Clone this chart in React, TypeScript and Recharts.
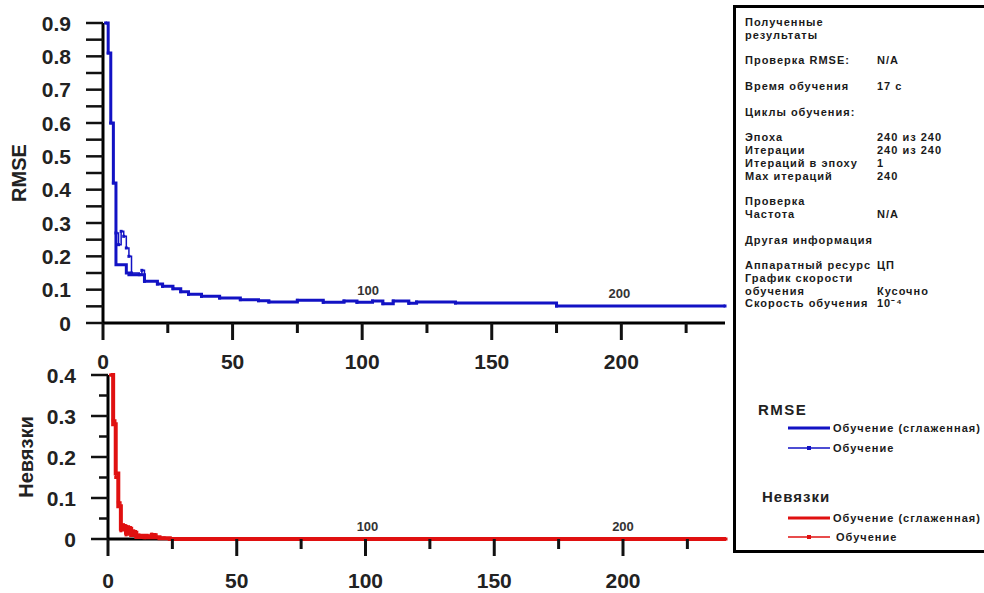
import React from 'react';
import { LineChart, Line, XAxis, YAxis, ReferenceDot } from 'recharts';

// RMSE, training smoothed (iteration -> value)
const rmseSmoothIter = [1, 2, 3, 4, 5, 9, 10, 16, 21, 23, 27, 30, 33, 38, 45, 53, 60, 64, 75, 85, 93, 98, 104, 108, 112, 118, 121, 136, 175, 240];
const rmseSmoothVal = [0.9, 0.81, 0.6, 0.42, 0.175, 0.15, 0.145, 0.125, 0.117, 0.11, 0.103, 0.094, 0.086, 0.08, 0.075, 0.07, 0.067, 0.063, 0.068, 0.062, 0.066, 0.062, 0.066, 0.058, 0.066, 0.059, 0.063, 0.06, 0.051, 0.051];

// RMSE, training raw
const rmseRawIter = [1, 2, 3, 4, 5, 6, 7, 8, 9, 10, 11, 14, 15, 16, 21, 23, 27, 30, 33, 38, 45, 53, 60, 64, 75, 85, 93, 98, 104, 108, 112, 118, 121, 136, 175, 240];
const rmseRawVal = [0.9, 0.81, 0.6, 0.42, 0.27, 0.235, 0.275, 0.26, 0.225, 0.2, 0.15, 0.145, 0.158, 0.125, 0.117, 0.11, 0.103, 0.094, 0.086, 0.08, 0.075, 0.07, 0.067, 0.063, 0.068, 0.062, 0.066, 0.062, 0.066, 0.058, 0.066, 0.059, 0.063, 0.06, 0.051, 0.051];

// residuals (Невязки), smoothed and raw
const resSmoothIter = [1, 2, 3, 4, 5, 6, 7, 8, 9, 10, 11, 13, 15, 17, 18, 20, 24, 240];
const resSmoothVal = [0.4, 0.28, 0.16, 0.08, 0.025, 0.03, 0.015, 0.025, 0.01, 0.015, 0.005, 0.008, 0.004, 0.01, 0.004, 0.002, 0, 0];
const resRawIter = [1, 2, 3, 4, 5, 6, 7, 8, 9, 10, 11, 12, 14, 16, 17, 19, 22, 25, 240];
const resRawVal = [0.4, 0.29, 0.15, 0.09, 0.02, 0.035, 0.01, 0.03, 0.012, 0.02, 0.006, 0.01, 0.003, 0.008, 0.012, 0.004, 0.002, 0, 0];

const xTicks = [0, 25, 50, 75, 100, 125, 150, 175, 200, 225];
const rmseTicks = [0, 0.05, 0.1, 0.15, 0.2, 0.25, 0.3, 0.35, 0.4, 0.45, 0.5, 0.55, 0.6, 0.65, 0.7, 0.75, 0.8, 0.85, 0.9];
const resTicks = [0, 0.05, 0.1, 0.15, 0.2, 0.25, 0.3, 0.35, 0.4];

// epoch markers written above the curves
const markerIters = [100, 200];
const rmseMarkerVal = [0.06, 0.05];
const resMarkerVal = [0, 0];

const infoGroups: [string, string][][] = [
  [['Полученные', ''], ['результаты', '']],
  [['Проверка RMSE:', 'N/A']],
  [['Время обучения', '17 с']],
  [['Циклы обучения:', '']],
  [['Эпоха', '240 из 240'], ['Итерации', '240 из 240'], ['Итераций в эпоху', '1'], ['Max итераций', '240']],
  [['Проверка', ''], ['Частота', 'N/A']],
  [['Другая информация', '']],
  [['Аппаратный ресурс', 'ЦП'], ['График скорости', ''], ['обучения', 'Кусочно'], ['Скорость обучения', '10⁻⁴']],
];

const legendTitles = ['RMSE', 'Невязки'];
const legendItems = ['Обучение (сглаженная)', 'Обучение'];

const BLUE = '#1212c4';
const RED = '#e01010';
const FONT = "'Liberation Sans', Arial, sans-serif";

const zip = (xs: number[], ys: number[]) => xs.map((x, i) => ({ iter: x, value: ys[i] }));

const makeXTick = (labelDy: number) => ({ x, y, payload }: any) => {
  const major = payload.value % 50 === 0;
  return (
    <g>
      <line x1={x} x2={x} y1={y} y2={y + (major ? 17 : 10)} stroke="#111" strokeWidth={3} />
      {major && (
        <text x={x} y={y + labelDy} textAnchor="middle" fontFamily={FONT} fontWeight="bold" fontSize={21} fill="#222">
          {payload.value}
        </text>
      )}
    </g>
  );
};

const makeYTick = (minorLen: number) => ({ x, y, payload }: any) => {
  const v = payload.value;
  const major = Math.round(v * 20) % 2 === 0;
  return (
    <g>
      <line x1={x - (major ? 17 : minorLen)} x2={x} y1={y} y2={y} stroke="#111" strokeWidth={2.5} />
      {major && (
        <text x={x - 32} y={y + 7.5} textAnchor="end" fontFamily={FONT} fontWeight="bold" fontSize={21} fill="#222">
          {v === 0 ? '0' : v.toFixed(1)}
        </text>
      )}
    </g>
  );
};

const axisLabel = (text: string, dx: number) => ({ viewBox }: any) => (
  <text
    transform={`translate(${viewBox.x + dx},${viewBox.y + viewBox.height / 2}) rotate(-90)`}
    textAnchor="middle"
    dominantBaseline="central"
    fontFamily={FONT}
    fontWeight="bold"
    fontSize={20}
    fill="#222"
  >
    {text}
  </text>
);

const marker = (label: string, dx: number, dy: number) => (p: any) => (
  <text x={p.cx + dx} y={p.cy + dy} textAnchor="middle" fontFamily={FONT} fontWeight="bold" fontSize={13} fill="#333">
    {label}
  </text>
);

const squareDot = (color: string) => (p: any) => (
  <rect key={p.index} x={p.cx - 1.5} y={p.cy - 1.5} width={3} height={3} fill={color} />
);

const axisLine = { stroke: '#000', strokeWidth: 3 };

const App = () => {
  return (
    <div style={{ position: 'absolute', left: 0, top: 0, width: 984, height: 593, overflow: 'hidden', background: '#fff' }}>
      <div style={{ position: 'absolute', left: 0, top: 0 }}>
        <LineChart width={740} height={380} margin={{ top: 23, right: 15, bottom: 0, left: 0 }}>
          <XAxis dataKey="iter" type="number" domain={[0, 240]} ticks={xTicks} interval={0} height={57}
            axisLine={axisLine} tickLine={false} tickSize={0} tickMargin={0} tick={makeXTick(46)} />
          <YAxis type="number" domain={[0, 0.9]} ticks={rmseTicks} interval={0} width={103}
            axisLine={axisLine} tickLine={false} tickSize={0} tickMargin={0} tick={makeYTick(17)}
            label={{ content: axisLabel('RMSE', 19) }} />
          <Line data={zip(rmseRawIter, rmseRawVal)} dataKey="value" type="stepAfter" stroke={BLUE}
            strokeWidth={1.5} dot={squareDot(BLUE)} isAnimationActive={false} zIndex={600} />
          <Line data={zip(rmseSmoothIter, rmseSmoothVal)} dataKey="value" type="stepAfter" stroke={BLUE}
            strokeWidth={3} dot={false} isAnimationActive={false} zIndex={601} />
          {markerIters.map((it, i) => (
            <ReferenceDot key={it} x={it} y={rmseMarkerVal[i]} r={1} shape={marker(String(it), i === 0 ? 6 : -2, -8)} />
          ))}
        </LineChart>
      </div>

      <div style={{ position: 'absolute', left: 0, top: 350 }}>
        <LineChart width={740} height={243} margin={{ top: 25, right: 14, bottom: 0, left: 0 }}>
          <XAxis dataKey="iter" type="number" domain={[0, 240]} ticks={xTicks} interval={0} height={54}
            axisLine={axisLine} tickLine={false} tickSize={0} tickMargin={0} tick={makeXTick(49)} />
          <YAxis type="number" domain={[0, 0.4]} ticks={resTicks} interval={0} width={108}
            axisLine={axisLine} tickLine={false} tickSize={0} tickMargin={0} tick={makeYTick(9)}
            label={{ content: axisLabel('Невязки', 26) }} />
          <Line data={zip(resRawIter, resRawVal)} dataKey="value" type="stepAfter" stroke={RED}
            strokeWidth={1.5} dot={squareDot(RED)} isAnimationActive={false} zIndex={600} />
          <Line data={zip(resSmoothIter, resSmoothVal)} dataKey="value" type="stepAfter" stroke={RED}
            strokeWidth={4} dot={false} isAnimationActive={false} zIndex={601} />
          {markerIters.map((it, i) => (
            <ReferenceDot key={it} x={it} y={resMarkerVal[i]} r={1} shape={marker(String(it), i === 0 ? 2 : 0, -8)} />
          ))}
        </LineChart>
      </div>

      <div style={{
        position: 'absolute', left: 733, top: 5, width: 280, height: 548, border: '3px solid #000',
        boxSizing: 'border-box', padding: '8px 0 0 9px', fontFamily: FONT, fontWeight: 'bold',
        fontSize: 11, letterSpacing: 1, color: '#1a1a1a',
      }}>
        {infoGroups.map((group, gi) => (
          <div key={gi} style={{ marginBottom: 13 }}>
            {group.map(([label, value], ri) => (
              <div key={ri} style={{ position: 'relative', height: 12.7, lineHeight: '12.7px', whiteSpace: 'nowrap' }}>
                <span>{label}</span>
                {value && <span style={{ position: 'absolute', left: 132, top: 0 }}>{value}</span>}
              </div>
            ))}
          </div>
        ))}
      </div>

      <svg style={{ position: 'absolute', left: 736, top: 390 }} width={248} height={160}>
        {legendTitles.map((title, gi) => {
          const color = gi === 0 ? BLUE : RED;
          const top = gi === 0 ? 20 : 107;
          return (
            <g key={title}>
              <text x={gi === 0 ? 22 : 26} y={top + 5} fontFamily={FONT} fontWeight="bold" fontSize={15}
                letterSpacing={gi === 0 ? 1.5 : 1} fill="#222">{title}</text>
              {legendItems.map((item, ii) => {
                const ly = top + (gi === 0 ? 18 + ii * 20 : 21 + ii * 19);
                return (
                  <g key={item}>
                    <line x1={52} x2={94} y1={ly} y2={ly} stroke={color} strokeWidth={ii === 0 ? 3 : 1.5} />
                    {ii === 1 && <rect x={71} y={ly - 2} width={4} height={4} fill={color} />}
                    <text x={ii === 1 && gi === 1 ? 100 : 97} y={ly + 3.5} fontFamily={FONT} fontWeight="bold"
                      fontSize={11} letterSpacing={1} fill="#1a1a1a">{item}</text>
                  </g>
                );
              })}
            </g>
          );
        })}
      </svg>
    </div>
  );
};

export default App;
